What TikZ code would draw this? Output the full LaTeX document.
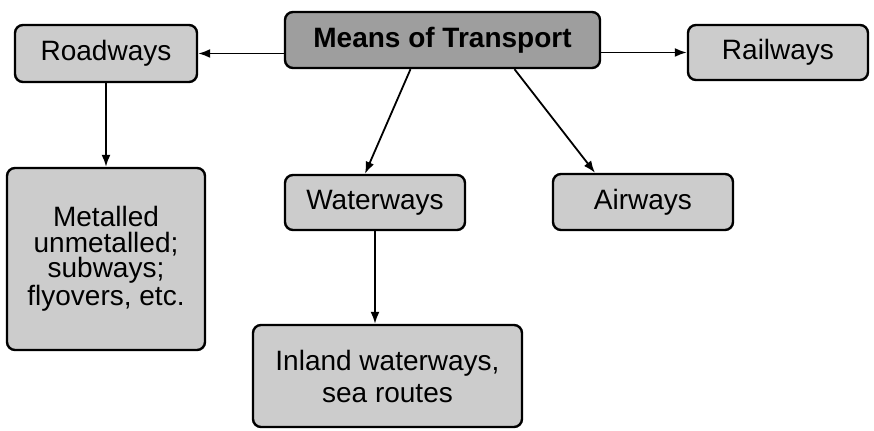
\documentclass[tikz,border=0pt]{standalone}
\usepackage{fontspec}
\setmainfont{Liberation Sans}
\usetikzlibrary{arrows.meta, positioning}

\begin{document}
\begin{tikzpicture}[
  x=0.5pt, y=-0.5pt,
  box/.style={rectangle, rounded corners=4pt, draw, line width=1.2pt, align=center, fill=black!20,
    inner sep=0pt, font=\fontsize{14}{17}\selectfont},
  arrow/.style={-{Latex[length=6pt,width=4.5pt]}, line width=0.9pt}
]
\useasboundingbox (0,0) rectangle (874,431);

\node (means) [box, fill=black!38, minimum width=157.5pt, minimum height=28pt, font=\fontsize{14}{17}\selectfont\bfseries] at (442.5,40) {Means of Transport};
\node (road) [box, minimum width=91pt, minimum height=28.5pt] at (106,53.5) {Roadways};
\node (rail) [box, minimum width=90pt, minimum height=27.5pt] at (778,52.5) {Railways};
\node (wat) [box, minimum width=90pt, minimum height=27.5pt] at (375,202.5) {Waterways};
\node (air) [box, minimum width=90pt, minimum height=28pt] at (643,202) {Airways};
\node (metal) [box, minimum width=99pt, minimum height=91pt, font=\fontsize{14}{12.8}\selectfont] at (106,259) {Metalled\\unmetalled;\\subways;\\flyovers, etc.};
\node (inland) [box, minimum width=134.5pt, minimum height=51pt, font=\fontsize{14}{16}\selectfont] at (387.5,376) {Inland waterways,\\sea routes};

\draw [arrow] (means.west |- road.east) -- (road.east);
\draw [arrow] (means.east |- rail.west) -- (rail.west);
\draw [arrow] ([xshift=-16pt]means.south) -- ([xshift=-5pt]wat.north);
\draw [arrow] ([xshift=36pt]means.south) -- ([xshift=-24pt]air.north);
\draw [arrow] (road.south) -- (metal.north);
\draw [arrow] (wat.south) -- (wat.south |- inland.north);

\end{tikzpicture}
\end{document}
